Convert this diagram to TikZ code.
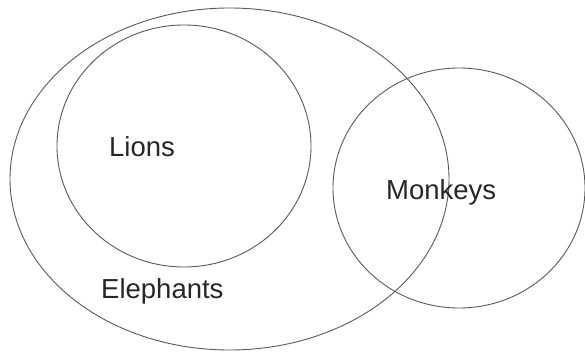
\documentclass[tikz,border=0pt]{standalone}
\usepackage{fontspec}
\setmainfont{Liberation Sans}
\begin{document}
\begin{tikzpicture}[x=1pt,y=-1pt,
  setline/.style={draw=black!65, line width=0.9pt},
  setlabel/.style={anchor=base west, inner sep=0pt, text=black!85, font=\fontsize{27.5}{30}\selectfont}]
\useasboundingbox (0,0) rectangle (585,352);
\draw[setline] (229.5,179) ellipse [x radius=219.5, y radius=171];
\draw[setline] (184,146) ellipse [x radius=127, y radius=121];
\draw[setline] (459,188) ellipse [x radius=126, y radius=120];
\node[setlabel] (lions) at (109,157) {Lions};
\node[setlabel] (elephants) at (101,298) {Elephants};
\node[setlabel] (monkeys) at (386,200) {Monkeys};
\end{tikzpicture}
\end{document}
